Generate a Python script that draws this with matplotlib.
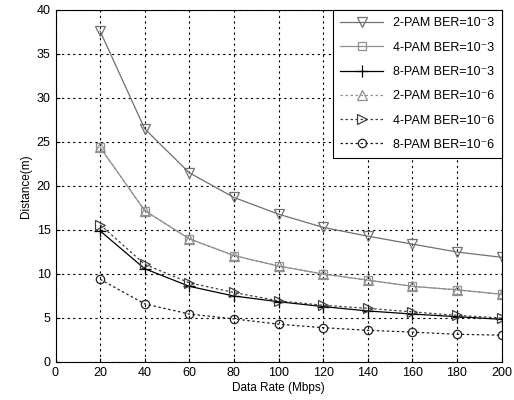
import numpy as np
import matplotlib.pyplot as plt

plt.rcParams['font.family'] = ['Liberation Sans', 'DejaVu Sans']

rates = [20, 40, 60, 80, 100, 120, 140, 160, 180, 200]

pam2_e3 = [37.6, 26.5, 21.5, 18.7, 16.8, 15.3, 14.3, 13.4, 12.5, 11.9]
pam4_e3 = [24.4, 17.2, 14.0, 12.1, 10.9, 10.0, 9.3, 8.6, 8.2, 7.7]
pam8_e3 = [14.9, 10.6, 8.6, 7.5, 6.85, 6.3, 5.8, 5.45, 5.15, 4.85]
pam2_e6 = [24.4, 17.2, 14.0, 12.1, 10.9, 10.0, 9.3, 8.6, 8.2, 7.7]
pam4_e6 = [15.6, 11.1, 9.0, 7.9, 6.95, 6.45, 6.1, 5.7, 5.3, 5.0]
pam8_e6 = [9.4, 6.6, 5.45, 4.9, 4.3, 3.9, 3.6, 3.4, 3.15, 3.05]

labels = ['2-PAM BER=10\u207b3', '4-PAM BER=10\u207b3', '8-PAM BER=10\u207b3',
          '2-PAM BER=10\u207b6', '4-PAM BER=10\u207b6', '8-PAM BER=10\u207b6']

fig = plt.figure(figsize=(5.14, 4.0), dpi=100)
ax = fig.add_axes([55.5 / 514, 38 / 400, 446 / 514, 352 / 400])

series = [pam2_e3, pam4_e3, pam8_e3, pam2_e6, pam4_e6, pam8_e6]
dash = (0, (2, 2))
styles = [('#707070', '-', 'v', 7),
          ('#909090', '-', 's', 6),
          ('#000000', '-', '+', 8),
          ('#909090', dash, '^', 7),
          ('#404040', dash, '>', 7),
          ('#202020', dash, 'o', 6)]
for vals, lab, (c, ls, m, ms) in zip(series, labels, styles):
    ax.plot(rates, vals, color=c, linestyle=ls, linewidth=0.9, marker=m,
            markersize=ms, markerfacecolor='none', markeredgecolor=c,
            markeredgewidth=0.9, label=lab)

ax.set_xlim(0, 200)
ax.set_ylim(0, 40)
ax.set_xticks(np.arange(0, 201, 20))
ax.set_yticks(np.arange(0, 41, 5))
ax.grid(True, color='black', linestyle=(0, (2, 3)), linewidth=0.8)
ax.tick_params(labelsize=9, direction='in', length=3)
ax.set_xlabel('Data Rate (Mbps)', fontsize=8.5, labelpad=2)
ax.set_ylabel('Distance(m)', fontsize=8.5, labelpad=3)
for s in ax.spines.values():
    s.set_linewidth(0.8)

leg = ax.legend(loc='upper right', fontsize=9, frameon=True, fancybox=False,
                edgecolor='black', framealpha=1, borderaxespad=0,
                handlelength=3.4, labelspacing=0.98, borderpad=0.6)
leg.get_frame().set_linewidth(0.8)

fig.savefig('out.png', dpi=100)
